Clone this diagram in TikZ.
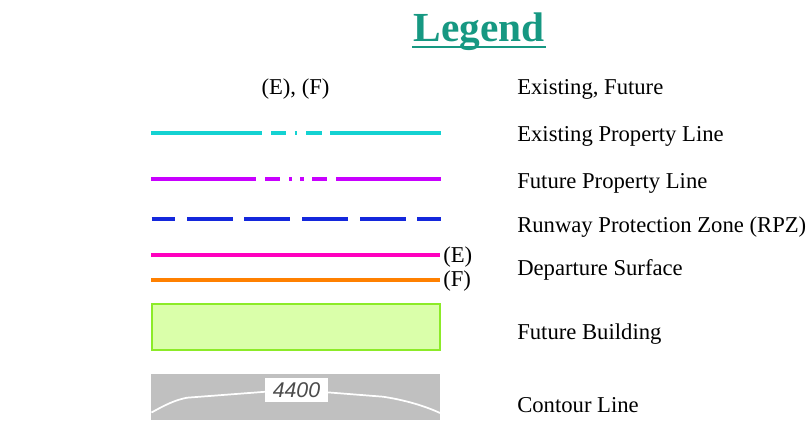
\documentclass[tikz,border=0pt]{standalone}
\usepackage{fontspec}
\setmainfont{Liberation Serif}
\newfontfamily\numfont{Liberation Sans}
\definecolor{titlec}{RGB}{22,152,130}
\definecolor{cyanl}{RGB}{20,210,210}
\definecolor{magl}{RGB}{200,0,255}
\definecolor{bluel}{RGB}{20,40,220}
\definecolor{pinkl}{RGB}{255,0,190}
\definecolor{orangel}{RGB}{255,128,0}
\definecolor{bldfill}{RGB}{218,255,170}
\definecolor{bldedge}{RGB}{140,235,40}
\definecolor{contfill}{RGB}{192,192,192}
\begin{document}
\begin{tikzpicture}[x=0.75pt,y=-0.75pt,
  lbl/.style={anchor=west,font=\fontsize{17}{20}\selectfont,inner sep=0},
  legline/.style={line width=2.6pt},
]
\useasboundingbox (0,0) rectangle (810,429);
% title
\node[font=\fontsize{31}{36}\selectfont\bfseries,text=titlec,inner sep=0] (title) at (479,32) {Legend};
\draw[titlec,line width=2pt] (412,47) -- (546,47);
% header
\node[font=\fontsize{17}{20}\selectfont,inner sep=0] (ef) at (295.5,89) {(E), (F)};
\node[lbl] (l1) at (517,89) {Existing, Future};
\node[lbl] (l2) at (517,136) {Existing Property Line};
\node[lbl] (l3) at (517,183) {Future Property Line};
\node[lbl] (l4) at (517,227) {Runway Protection Zone (RPZ)};
\node[lbl] (l5) at (517,270) {Departure Surface};
\node[lbl] (l6) at (517,334) {Future Building};
\node[lbl] (l7) at (517,405) {Contour Line};
% existing property line
\draw[cyanl,legline] (151,133) -- (262,133) (271,133) -- (286,133) (294.5,133) -- (297,133) (306,133) -- (322,133) (330,133) -- (441,133);
% future property line
\draw[magl,legline] (151,179) -- (256,179) (265,179) -- (280,179) (289,179) -- (292,179) (300,179) -- (304,179) (312,179) -- (327,179) (336,179) -- (441,179);
% RPZ
\draw[bluel,legline] (151.5,219) -- (175,219) (187,219) -- (232.7,219) (244.3,219) -- (290.3,219) (302,219) -- (348,219) (360,219) -- (405.7,219) (417.3,219) -- (440.7,219);
% departure surfaces
\coordinate (e0) at (151,255); \coordinate (e1) at (440,255);
\draw[pinkl,line width=3pt] (e0) -- (e1);
\node[anchor=west,font=\fontsize{17}{20}\selectfont,inner sep=0] (el) at (443,257) {(E)};
\coordinate (f0) at (151,280); \coordinate (f1) at (440,280);
\draw[orangel,line width=3pt] (f0) -- (f1);
\node[anchor=west,font=\fontsize{17}{20}\selectfont,inner sep=0] (fl) at (443,281) {(F)};
% future building
\draw[bldedge,fill=bldfill,line width=1.5pt] (152,304) rectangle (439.5,350);
% contour
\fill[contfill] (151,374) rectangle (440,420);
\draw[white,line width=1.3pt] (151.5,412.5) .. controls (165,405) and (175,400) .. (187,397.7) -- (266,391.7);
\draw[white,line width=1.3pt] (327,392.3) -- (383,396.7) .. controls (405,400) and (425,406) .. (440,413);
\node[fill=white,draw=none,minimum width=63pt*0.75,minimum height=23.5pt*0.75,inner sep=0,font=\numfont\itshape\fontsize{16}{18}\selectfont,text=black!70] (c44) at (296.5,390) {4400};
\end{tikzpicture}
\end{document}
